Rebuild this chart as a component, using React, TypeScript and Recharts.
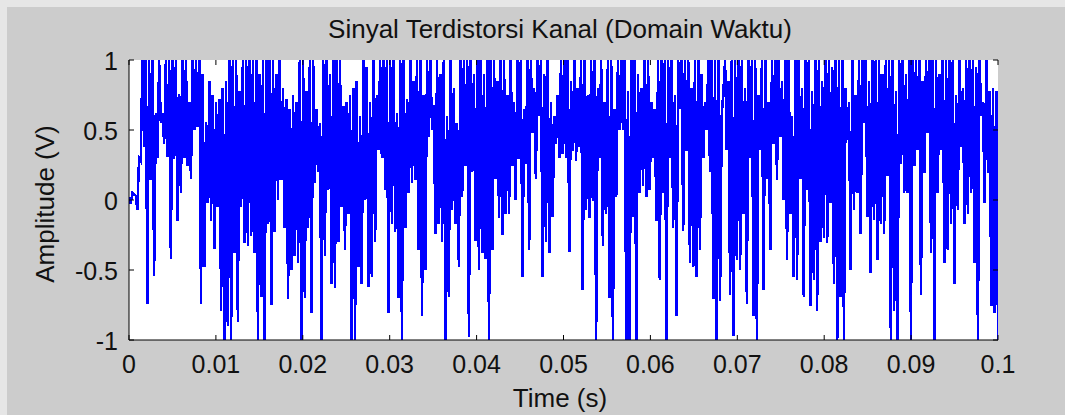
import React from "react";
import { LineChart, Line, XAxis, YAxis, CartesianGrid } from "recharts";

// Sinyal terdistorsi kanal, dibaca per 0.01 s: puncak (peaks) dan lembah (troughs) bergantian
const peaks0 = [0.02, 0.05, 0.03, 0.3, 1, 1, 1, 1, 0.62, 1, 0.62, 1, 1, 1, 1, 0.76, 1, 1, 0.7, 1, 1, 1, 0.9, 0.56, 0.85, 0.75];
const troughs0 = [-0.03, 0.04, -0.07, 0.28, 0.38, -0.74, 0.14, -0.54, 0.3, 0.55, 0.4, 0.31, -0.42, 0.29, -0.15, 0.05, 0.3, 0.24, 0.15, 0.5, 0.52, -0.74, -0.48, -0.02, -0.15, -0.35];
const peaks1 = [0.7, 0.72, 0.8, 0.85, 1, 1, 1, 0.78, 1, 1, 1, 1, 1, 0.9, 1, 1, 1, 1, 0.9, 1, 0.8, 0.72, 0.65, 0.75, 0.7, 1];
const troughs1 = [-0.05, -0.79, -1, -0.9, -1, -0.38, -0.87, -0.05, -0.31, -0.33, -0.26, -0.38, -1, -0.69, -1, -0.17, -0.75, -0.23, 0, 0.14, -0.2, -0.71, -0.5, -0.4, -0.45, -1];
const peaks2 = [1, 0.78, 1, 1, 0.65, 0.55, 1, 1, 0.9, 1, 1, 1, 0.67, 0.7, 0.75, 0.8, 0.85, 0.6, 1, 0.95, 0.7, 1, 0.75, 1, 1, 1];
const troughs2 = [-0.7, -0.2, -0.81, 0.12, 0.2, -1, -0.4, 0.07, -0.6, -0.63, -0.3, -0.05, -0.36, -0.1, -1, -1, -0.48, -0.6, 0, -0.62, -0.55, -0.3, 0.36, 0.3, 0.07, -0.81];
const peaks3 = [1, 1, 0.62, 1, 1, 0.72, 1, 0.85, 1, 1, 0.75, 1, 1, 0.68, 1, 0.9, 1, 0.6, 1, 0.8, 0.55, 1, 1, 1, 1, 0.9];
const troughs3 = [-0.17, -0.23, -0.7, -1, -0.2, 0.05, 0.12, 0.14, -0.36, -0.83, -0.5, 0.45, 0.5, -0.24, -0.17, -0.3, -1, -0.69, -0.07, -0.17, -0.48, 0.02, 0.24, -0.98, 0.2, -0.29];
const peaks4 = [1, 1, 0.9, 1, 1, 1, 0.85, 1, 1, 0.75, 1, 0.7, 1, 1, 0.65, 1, 1, 0.8, 1, 1, 0.9, 1, 0.7, 0.6, 0.75, 1];
const troughs4 = [-0.5, -0.38, -0.42, -1, -0.36, 0.15, -0.13, -0.25, -0.1, -0.1, 0.24, 0, 0.29, -0.55, 0.26, -0.36, 0.48, 0.15, 0.6, -0.55, -0.3, -0.38, -0.12, 0.4, 0.3, 0.33];
const peaks5 = [1, 1, 0.85, 1, 0.8, 1, 1, 0.75, 1, 1, 0.8, 1, 0.7, 1, 1, 0.65, 1, 1, 1, 0.78, 1, 1, 0.9, 0.8, 1, 1];
const troughs5 = [0.3, -0.37, 0.35, 0.28, 0.38, -0.64, -0.07, -0.13, -0.01, -1, 0.3, -0.33, -0.1, -0.7, -1, 0.02, 0.5, 0.5, -1, -1, -0.12, -1, 0.05, 0.1, 0.02, 0.07];
const peaks6 = [0.7, 0.65, 1, 1, 1, 1, 1, 0.75, 1, 1, 1, 1, 0.8, 1, 1, 0.9, 0.7, 1, 1, 1, 1, 0.6, 1, 0.85, 1, 1];
const troughs6 = [0.3, -0.15, -0.57, 0.05, -1, 0.3, -0.2, -0.83, 0.65, -0.22, 0.35, -0.45, -0.48, -0.55, -0.36, 0.3, 0.5, 0.2, -0.71, -1, -0.72, 0.78, 0.36, -0.68, -0.97, -0.43];
const peaks7 = [1, 1, 0.8, 1, 1, 1, 0.75, 1, 1, 0.7, 1, 1, 1, 0.85, 1, 1, 0.6, 1, 1, 0.8, 1, 1, 0.78, 1, 1, 0.85];
const troughs7 = [-0.5, -0.1, -0.74, 0.3, -0.83, -1, 0.36, -0.64, 0.15, -0.36, 0.4, 0.14, 0.45, 0, -0.43, -0.1, -0.55, -0.57, 0.15, -0.69, 0.07, -0.76, -0.57, -0.79, -0.3, -0.27];
const peaks8 = [1, 1, 0.95, 1, 1, 1, 0.8, 0.7, 1, 0.75, 1, 1, 1, 0.85, 1, 1, 1, 0.9, 1, 1, 1, 0.78, 1, 1, 0.9, 1];
const troughs8 = [-0.31, -0.02, -0.6, -1, -0.69, -1, 0.43, -0.5, -0.07, 0.05, -0.24, 0.55, -0.12, -0.52, -0.14, -0.43, -0.17, -0.24, 0.17, -1, -0.79, -1, 0.26, 0.05, 0.05, -1];
const peaks9 = [1, 1, 1, 0.85, 1, 1, 1, 1, 0.9, 1, 1, 1, 1, 0.75, 1, 0.8, 1, 1, 1, 0.95, 1, 0.7, 1, 0.78, 0.8, 0.78];
const troughs9 = [0.24, 0.36, -0.68, 0.19, 0.48, -0.38, -1, 0.05, 0.36, -0.45, -0.36, -0.17, -0.6, -0.07, 0.38, -0.17, -0.1, 0.05, -0.45, -1, 0.6, -0.02, 0.19, -0.76, -0.81, -1];

const xTicks = [0, 0.01, 0.02, 0.03, 0.04, 0.05, 0.06, 0.07, 0.08, 0.09, 0.1];
const xTickLabels = ["0", "0.01", "0.02", "0.03", "0.04", "0.05", "0.06", "0.07", "0.08", "0.09", "0.1"];
const yTicks = [-1, -0.5, 0, 0.5, 1];
const yTickLabels = ["-1", "-0.5", "0", "0.5", "1"];

const peaks = [...peaks0, ...peaks1, ...peaks2, ...peaks3, ...peaks4, ...peaks5, ...peaks6, ...peaks7, ...peaks8, ...peaks9];
const troughs = [...troughs0, ...troughs1, ...troughs2, ...troughs3, ...troughs4, ...troughs5, ...troughs6, ...troughs7, ...troughs8, ...troughs9];

// sampel berselang-seling puncak/lembah, rentang 0 .. 0.1 s
const STEP = 0.1 / (peaks.length * 2 - 1);
const signal = peaks.flatMap((p, i) => [
  { t: 2 * i * STEP, v: p },
  { t: (2 * i + 1) * STEP, v: troughs[i] },
]);

const W = 1065;
const H = 415;
const PLOT = { left: 129, right: 998, top: 60, bottom: 340 };
const FONT = '"Liberation Sans", Arial, Helvetica, sans-serif';

function XTick(props: any) {
  const { x, index } = props;
  return (
    <g>
      <line x1={x} x2={x} y1={PLOT.bottom} y2={PLOT.bottom - 5} stroke="#000" />
      <line x1={x} x2={x} y1={PLOT.top} y2={PLOT.top + 5} stroke="#000" />
      <text x={x} y={PLOT.bottom + 33} textAnchor="middle" fontSize={25} fontFamily={FONT} fill="#111">
        {xTickLabels[index]}
      </text>
    </g>
  );
}

function YTick(props: any) {
  const { y, index } = props;
  return (
    <g>
      <line x1={PLOT.left} x2={PLOT.left + 5} y1={y} y2={y} stroke="#000" />
      <line x1={PLOT.right} x2={PLOT.right - 5} y1={y} y2={y} stroke="#000" />
      <text x={PLOT.left - 11} y={y + 10} textAnchor="end" fontSize={25} fontFamily={FONT} fill="#111">
        {yTickLabels[index]}
      </text>
    </g>
  );
}

export default function App() {
  return (
    <div style={{ position: "absolute", left: 0, top: 0, width: W, height: H, background: "#e6e6e6", overflow: "hidden" }}>
      <style>{".recharts-line-curve{shape-rendering:crispEdges}"}</style>
      <div style={{ position: "absolute", left: 7, top: 7, width: W - 7, height: H - 7, background: "#cccccc" }} />
      <div style={{ position: "absolute", left: 0, top: 0 }}>
        <LineChart
          width={W}
          height={H}
          data={signal}
          margin={{ top: PLOT.top, right: W - PLOT.right, bottom: H - PLOT.bottom - 30, left: 0 }}
        >
          <CartesianGrid horizontal={false} vertical={false} fill="#ffffff" stroke="none" />
          <XAxis
            dataKey="t"
            type="number"
            domain={[0, 0.1]}
            ticks={xTicks}
            interval={0}
            allowDataOverflow
            height={30}
            tickLine={false}
            tick={<XTick />}
            axisLine={{ stroke: "#000" }}
          />
          <XAxis
            xAxisId="top"
            dataKey="t"
            type="number"
            orientation="top"
            domain={[0, 0.1]}
            height={0}
            tick={false}
            tickLine={false}
            axisLine={{ stroke: "#000" }}
          />
          <YAxis
            type="number"
            domain={[-1, 1]}
            ticks={yTicks}
            interval={0}
            allowDataOverflow
            width={PLOT.left}
            tickLine={false}
            tick={<YTick />}
            axisLine={{ stroke: "#000" }}
          />
          <YAxis
            yAxisId="right"
            type="number"
            orientation="right"
            domain={[-1, 1]}
            width={0}
            tick={false}
            tickLine={false}
            axisLine={{ stroke: "#000" }}
          />
          <Line
            type="linear"
            dataKey="v"
            stroke="#0000ff"
            strokeWidth={2.5}
            dot={false}
            activeDot={false}
            isAnimationActive={false}
          />
        </LineChart>
      </div>
      <svg width={W} height={H} style={{ position: "absolute", left: 0, top: 0, pointerEvents: "none" }}>
        <text x={560} y={38} textAnchor="middle" fontSize={26} fontFamily={FONT} fill="#111">
          Sinyal Terdistorsi Kanal (Domain Waktu)
        </text>
        <text x={560} y={407} textAnchor="middle" fontSize={26} fontFamily={FONT} fill="#111">
          Time (s)
        </text>
        <text transform="translate(54,204) rotate(-90)" textAnchor="middle" fontSize={26} fontFamily={FONT} fill="#111">
          Amplitude (V)
        </text>
      </svg>
    </div>
  );
}
